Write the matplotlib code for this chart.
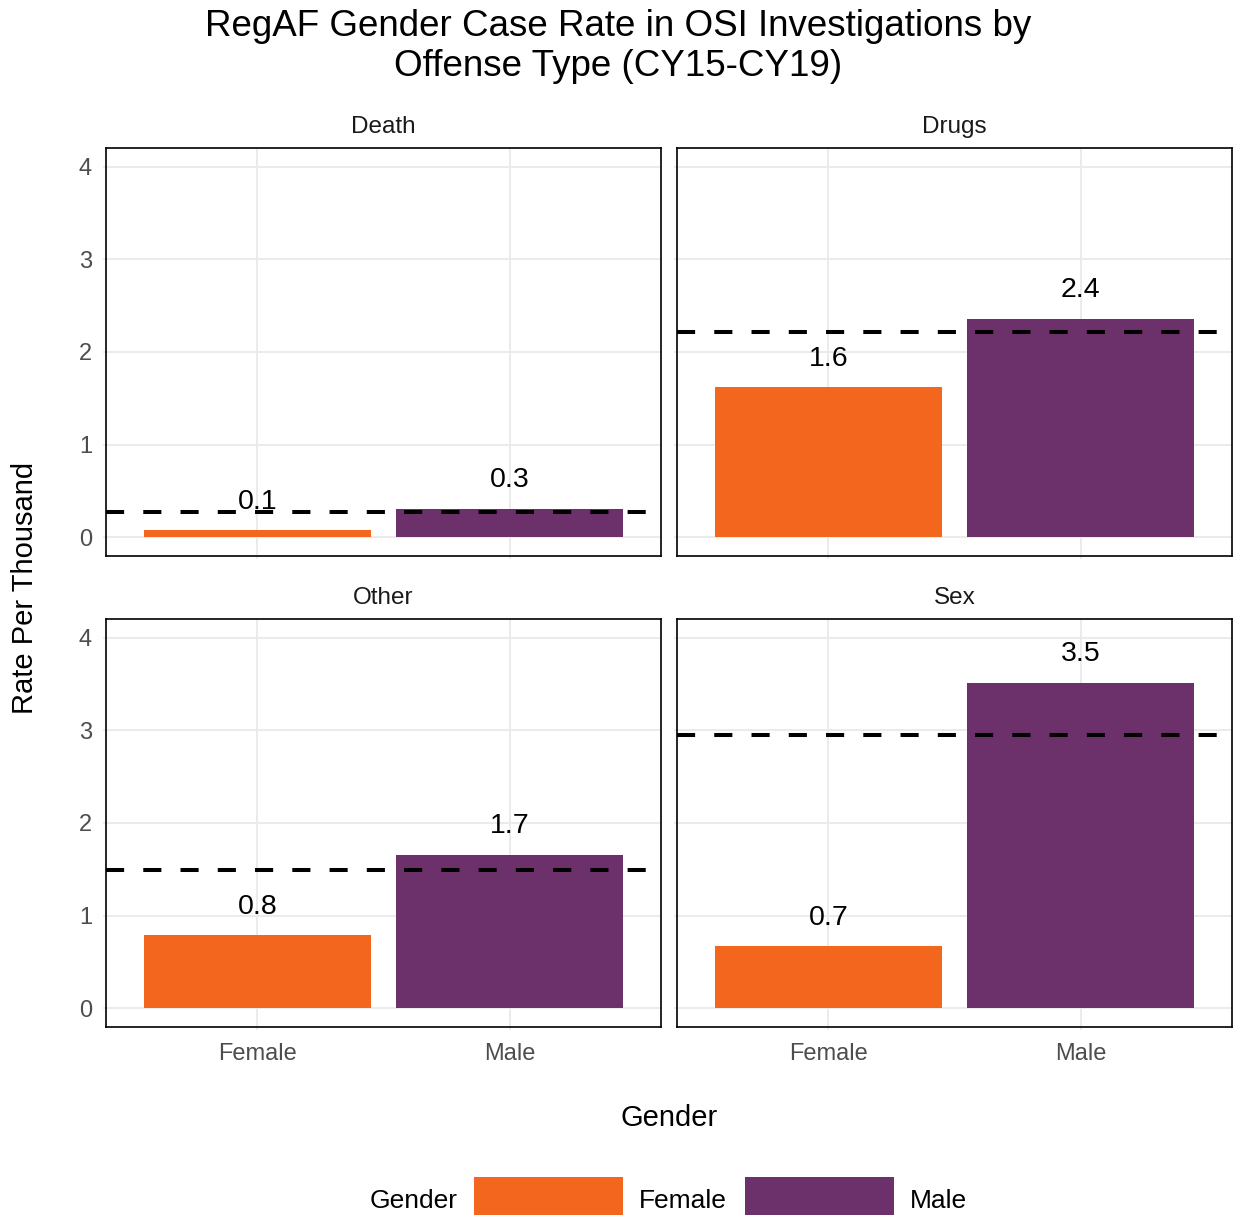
import matplotlib
matplotlib.use("Agg")
import matplotlib.pyplot as plt
from matplotlib.patches import Rectangle

# ---- data ----
offenses = ["Death", "Drugs", "Other", "Sex"]
genders = ["Female", "Male"]
female_rate = [0.08, 1.62, 0.79, 0.67]
male_rate = [0.31, 2.36, 1.66, 3.51]
overall_rate = [0.27, 2.22, 1.49, 2.95]
y_ticks = [0, 1, 2, 3, 4]
colors = {"Female": "#F2661E", "Male": "#6C306B"}

plt.rcParams['font.family'] = ['Liberation Sans', 'DejaVu Sans']

W, H = 1236, 1215
fig = plt.figure(figsize=(W / 100, H / 100), dpi=100)

def fx(px):
    return px / W

def fy(py):
    return 1 - py / H

cols = [(106, 661), (677, 1232)]
rows = [(148, 556), (619, 1027)]

grid_c = "#EBEBEB"
for i, off in enumerate(offenses):
    r, c = divmod(i, 2)
    x0, x1 = cols[c]
    y0, y1 = rows[r]
    ax = fig.add_axes([fx(x0), fy(y1), fx(x1) - fx(x0), fy(y0) - fy(y1)])
    vals = [female_rate[i], male_rate[i]]
    xs = [1, 2]
    ax.bar(xs, vals, width=0.9, color=[colors[g] for g in genders], zorder=2)
    ax.axhline(overall_rate[i], color="black", lw=2.9, linestyle=(0, (4.5, 4.75)), zorder=3)
    for xv, v in zip(xs, vals):
        ax.annotate(f"{round(v, 1):.1f}", (xv, v), xytext=(0, 15.5), textcoords="offset points",
                    ha="center", va="baseline", fontsize=20.5, color="black", zorder=4)
    ax.set_xlim(0.4, 2.6)
    ax.set_ylim(-0.2, 4.2)
    ax.set_yticks(y_ticks)
    ax.set_xticks(xs)
    ax.grid(True, color=grid_c, lw=1.4, zorder=0)
    ax.set_axisbelow(True)
    for s in ax.spines.values():
        s.set_color("black")
        s.set_linewidth(1.2)
    ax.tick_params(axis="both", length=2.2, color=grid_c, width=1.2, labelsize=17, labelcolor="#4D4D4D")
    ax.tick_params(axis="y", pad=7.8)
    ax.tick_params(axis="x", pad=9.5)
    if c == 0:
        ax.set_yticklabels([str(t) for t in y_ticks])
    else:
        ax.set_yticklabels([])
    if r == 1:
        ax.set_xticklabels(genders)
    else:
        ax.set_xticklabels([])
    ax.annotate(off, (0.5, 1), xycoords="axes fraction", xytext=(0, 15.0), textcoords="offset points",
                ha="center", va="center", fontsize=17.5, color="#1A1A1A")

# titles
fig.text(0.5, fy(27), "RegAF Gender Case Rate in OSI Investigations by", ha="center", va="center",
         fontsize=26.5, color="black")
fig.text(0.5, fy(67), "Offense Type (CY15-CY19)", ha="center", va="center", fontsize=26.5, color="black")
fig.text(fx(25), fy(587.5), "Rate Per Thousand", rotation=90, ha="center", va="center", fontsize=21)
fig.text(fx(669), fy(1118), "Gender", ha="center", va="center", fontsize=21)

# legend
fig.text(fx(370), fy(1201), "Gender", ha="left", va="center", fontsize=19)
key_x = [474, 745]
lab_x = [639, 910]
for g, kx, lx in zip(genders, key_x, lab_x):
    fig.patches.append(Rectangle((fx(kx), fy(1224)), fx(149), fy(1177) - fy(1224), transform=fig.transFigure,
                                 facecolor=colors[g], edgecolor="none", clip_on=False))
    fig.text(fx(lx), fy(1201), g, ha="left", va="center", fontsize=19)

fig.savefig("out.png", dpi=100)
